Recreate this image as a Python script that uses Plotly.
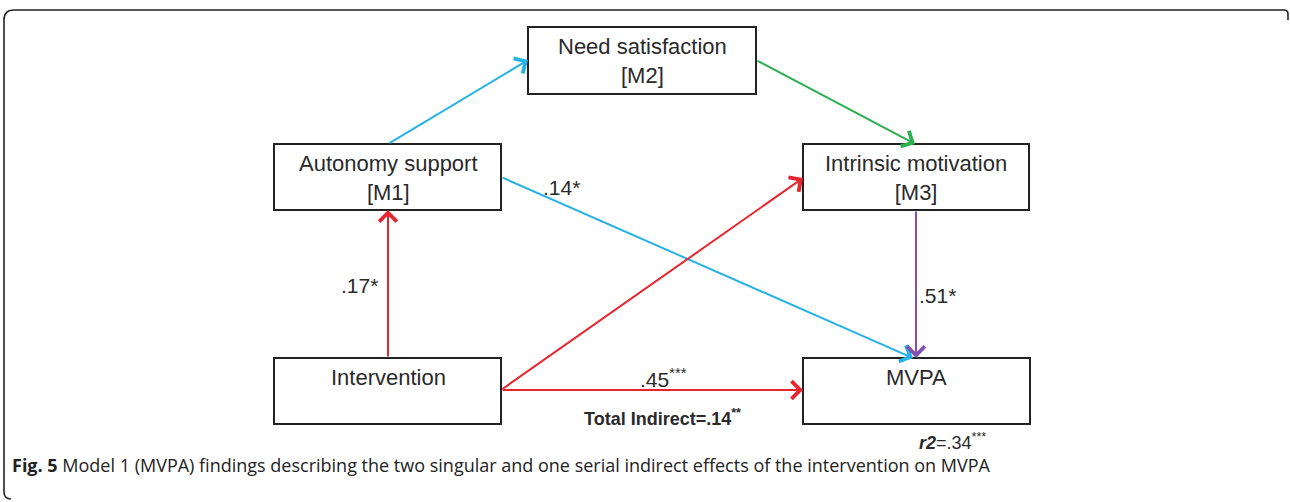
import plotly.graph_objects as go

# ---------------- data ----------------
node_ids = ["M2", "M1", "M3", "X", "Y"]
node_labels = ["Need satisfaction<br>[M2]", "Autonomy support<br>[M1]",
               "Intrinsic motivation<br>[M3]", "Intervention", "MVPA"]

edge_sources = ["M1", "M2", "M1", "X", "X", "X", "M3"]
edge_targets = ["M2", "M3", "Y", "M1", "M3", "Y", "Y"]
edge_coefs = ["", "", ".14*", ".17*", "", ".45<sup>***</sup>", ".51*"]

total_indirect = "Total Indirect=.14<sup>**</sup>"
r2_text = "<b><i>r2</i></b>=.34<sup>***</sup>"
caption_bold = "Fig. 5"
caption_text = ("Model 1 (MVPA) findings describing the two singular and one serial "
                "indirect effects of the intervention on MVPA")

# ---------------- layout (pixel coordinates) ----------------
W, H = 1290, 502
boxes = {  # x0, x1, y0, y1
    "M2": (528, 756, 27, 94),
    "M1": (274, 501, 144, 210),
    "M3": (803, 1029, 144, 210),
    "X": (274, 501, 358, 424),
    "Y": (803, 1030, 358, 424),
}
text_pos = {"M2": (642, 61), "M1": (388, 178), "M3": (916, 178),
            "X": (388, 377), "Y": (916, 377)}
# anchor points of each edge: (start point, end point)
edge_points = [
    ((388, 144), (528, 60)),
    ((756, 60), (915, 144)),
    ((501, 177), (913, 358)),
    ((388, 358), (388, 210)),
    ((501, 390), (803, 178)),
    ((501, 390), (803, 390)),
    ((916, 210), (916, 358)),
]
edge_colors = ["#27B2E6", "#2DAE4F", "#27B2E6", "#E8252E", "#E8252E", "#E8252E", "#8350B2"]
label_pos = [None, None, (561, 187), (359, 285), None, (663, 378), (937, 295)]

fig = go.Figure()
fig.add_trace(go.Scatter(x=[0, W], y=[0, H], mode="markers",
                         marker=dict(opacity=0), hoverinfo="skip", showlegend=False))

shapes = []
# outer frame
shapes.append(dict(type="path", xref="x", yref="y",
                   path="M 11,499 Q 4,499 4,492 L 4,20 Q 4,10 14,10 L 1284,10 Q 1288,10 1288,14 L 1288,20",
                   line=dict(color="#222222", width=1.6)))
for nid in node_ids:
    x0, x1, y0, y1 = boxes[nid]
    shapes.append(dict(type="rect", xref="x", yref="y", x0=x0, x1=x1, y0=y0, y1=y1,
                       line=dict(color="#222222", width=2), fillcolor="rgba(0,0,0,0)"))

annotations = []
box_font = dict(family="Liberation Sans, Arial", size=22, color="#2a2a2a")
for nid, lab in zip(node_ids, node_labels):
    tx, ty = text_pos[nid]
    annotations.append(dict(x=tx, y=ty, xref="x", yref="y", text=lab, showarrow=False,
                            font=box_font, xanchor="center", yanchor="middle"))

for (s, t, coef), (p0, p1), col, lp in zip(zip(edge_sources, edge_targets, edge_coefs),
                                           edge_points, edge_colors, label_pos):
    annotations.append(dict(x=p1[0], y=p1[1], ax=p0[0], ay=p0[1], xref="x", yref="y",
                            axref="x", ayref="y", text="", showarrow=True,
                            arrowhead=4, arrowsize=1.7, arrowwidth=2, arrowcolor=col,
                            standoff=0, startstandoff=0))
    if coef and lp:
        annotations.append(dict(x=lp[0], y=lp[1], xref="x", yref="y", text=coef,
                                showarrow=False, font=dict(family="Liberation Sans, Arial",
                                                           size=21, color="#2a2a2a"),
                                xanchor="center", yanchor="middle"))

annotations.append(dict(x=662, y=417, xref="x", yref="y", text="<b>" + total_indirect + "</b>",
                        showarrow=False, font=dict(family="Liberation Sans, Arial", size=18,
                                                   color="#2a2a2a"),
                        xanchor="center", yanchor="middle"))
annotations.append(dict(x=952, y=441, xref="x", yref="y", text=r2_text,
                        showarrow=False, font=dict(family="Liberation Sans, Arial", size=18,
                                                   color="#2a2a2a"),
                        xanchor="center", yanchor="middle"))
annotations.append(dict(x=10, y=465, xref="x", yref="y",
                        text="<b>" + caption_bold + "</b> " + caption_text,
                        showarrow=False, font=dict(family="Open Sans", size=18, color="#222222"),
                        xanchor="left", yanchor="middle"))

fig.update_layout(
    width=W, height=H, margin=dict(l=0, r=0, t=0, b=0),
    paper_bgcolor="white", plot_bgcolor="white",
    xaxis=dict(range=[0, W], visible=False, fixedrange=True),
    yaxis=dict(range=[H, 0], visible=False, fixedrange=True),
    shapes=shapes, annotations=annotations, showlegend=False,
)
fig.write_html("out.html", config={"displayModeBar": False},
               post_script="document.body.style.margin='0';document.body.style.overflow='hidden';")
